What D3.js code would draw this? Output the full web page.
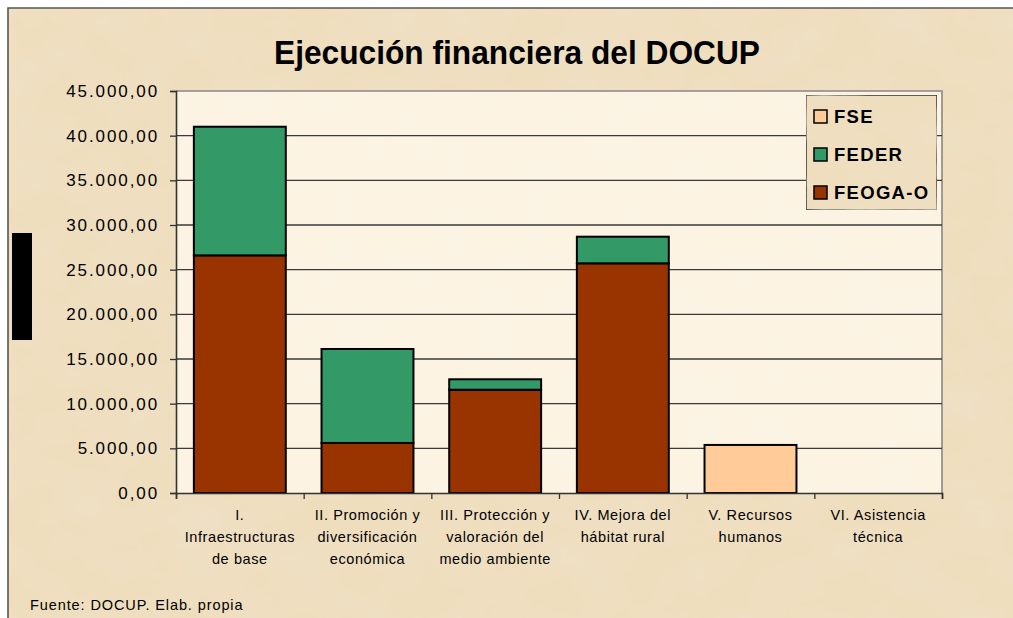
<!DOCTYPE html>
<html>
<head>
<meta charset="utf-8">
<script src="https://cdn.jsdelivr.net/npm/d3@7"></script>
<style>
html,body{margin:0;padding:0;background:#fff;}
svg{display:block;font-family:'Liberation Sans',Arial,sans-serif;}
</style>
</head>
<body>
<svg id="chart" width="1013" height="618"></svg>
<script>
const categories=['I','II','III','IV','V','VI'];
const catLabels=[
  ['I.','Infraestructuras','de base'],
  ['II. Promoción y','diversificación','económica'],
  ['III. Protección y','valoración  del','medio ambiente'],
  ['IV. Mejora del','hábitat rural'],
  ['V. Recursos','humanos'],
  ['VI. Asistencia','técnica']
];
const feogaValues=[26600,5600,11560,25710,0,0];
const federValues=[14400,10520,1170,2980,0,0];
const fseValues=[0,0,0,0,5380,0];
const seriesKeys=['FEOGA-O','FEDER','FSE'];
const legendOrder=['FSE','FEDER','FEOGA-O'];
const yTicks=[0,5000,10000,15000,20000,25000,30000,35000,40000,45000];

(function(){
const colors={'FEOGA-O':'#993300','FEDER':'#339966','FSE':'#ffcc99'};
const W=1013,H=618;
const L=176,R=942,T=91,B=493;
const svg=d3.select('#chart');

// parchment texture filters
const defs=svg.append('defs');
function parch(id,freq,seed,rgb,a,b){
  const f=defs.append('filter').attr('id',id).attr('x',0).attr('y',0).attr('width','100%').attr('height','100%');
  f.append('feTurbulence').attr('type','fractalNoise').attr('baseFrequency',freq).attr('numOctaves',5).attr('seed',seed).attr('result','n');
  f.append('feColorMatrix').attr('in','n').attr('type','matrix')
    .attr('values',`0 0 0 0 ${rgb[0]}  0 0 0 0 ${rgb[1]}  0 0 0 0 ${rgb[2]}  ${a} 0 0 0 ${b}`).attr('result','c');
  f.append('feComposite').attr('in','c').attr('in2','SourceGraphic').attr('operator','atop');
}
parch('parch','0.018 0.026',7,[0.86,0.76,0.58],1.3,-0.5);
parch('parchL','0.03',11,[1,0.97,0.9],1.4,-0.5);
parch('parch2','0.025',3,[0.95,0.89,0.78],1.0,-0.45);

// outer background + frame
const bg=svg.append('g');
bg.append('rect').attr('x',8).attr('y',8).attr('width',W-8).attr('height',H-8).attr('fill','#efdebe').attr('filter','url(#parch)');
bg.append('rect').attr('x',8).attr('y',8).attr('width',W-8).attr('height',H-8).attr('fill','none').attr('filter','url(#parchL)').style('fill','transparent');
svg.append('path').attr('d',`M8,${H} V8 H${W}`).attr('fill','none').attr('stroke','#555').attr('stroke-width',1.6);

// plot area
svg.append('rect').attr('x',L).attr('y',T).attr('width',R-L).attr('height',B-T).attr('fill','#fcf3e2').attr('filter','url(#parch2)');
svg.append('path').attr('d',`M${L},${T} H${R} V${B}`).attr('fill','none').attr('stroke','#888').attr('stroke-width',1.6);

const y=d3.scaleLinear().domain([0,45000]).range([B,T]);
const x=d3.scaleBand().domain(categories).range([L,R]).paddingInner(0.28).paddingOuter(0.14);
const xb=d3.scaleLinear().domain([0,categories.length]).range([L,R]);
const es=d3.formatLocale({decimal:',',thousands:'.',grouping:[3],currency:['','']});
const fmt=es.format(',.2f');

// gridlines
svg.append('g').selectAll('line').data(yTicks.filter(d=>d>0&&d<45000)).enter().append('line')
  .attr('x1',L).attr('x2',R).attr('y1',d=>y(d)).attr('y2',d=>y(d))
  .attr('stroke','#3a3a3a').attr('stroke-width',1.3);

// stacked bars
const rows=categories.map((c,i)=>({cat:c,'FEOGA-O':feogaValues[i],'FEDER':federValues[i],'FSE':fseValues[i]}));
const stack=d3.stack().keys(seriesKeys)(rows);
stack.forEach(s=>{
  svg.append('g').selectAll('rect').data(s.filter(d=>d[1]-d[0]>0)).enter().append('rect')
    .attr('x',d=>x(d.data.cat)).attr('width',x.bandwidth())
    .attr('y',d=>y(d[1])).attr('height',d=>y(d[0])-y(d[1]))
    .attr('fill',colors[s.key]).attr('stroke','#000').attr('stroke-width',2);
});

// y axis
const ya=svg.append('g').attr('transform',`translate(${L},0)`)
  .call(d3.axisLeft(y).tickValues(yTicks).tickFormat(fmt).tickSize(6).tickPadding(11));
ya.select('.domain').attr('stroke','#333').attr('stroke-width',1.6);
ya.selectAll('.tick line').attr('stroke','#333').attr('stroke-width',1.3);
ya.selectAll('.tick text').attr('font-size',17).attr('letter-spacing',1.9).attr('fill','#000')
  .attr('font-family','Liberation Sans,Arial,sans-serif');

// x axis
const xa=svg.append('g').attr('transform',`translate(0,${B})`)
  .call(d3.axisBottom(xb).tickValues(d3.range(categories.length+1)).tickFormat('').tickSize(6));
xa.select('.domain').attr('stroke','#333').attr('stroke-width',1.6);
xa.selectAll('.tick line').attr('stroke','#333').attr('stroke-width',1.3);

// category labels
const cl=svg.append('g').selectAll('text').data(categories).enter().append('text')
  .attr('x',d=>x(d)+x.bandwidth()/2).attr('text-anchor','middle')
  .attr('font-size',14.5).attr('letter-spacing',0.6).attr('fill','#000');
cl.each(function(d,i){
  const t=d3.select(this);
  catLabels[i].forEach((line,j)=>t.append('tspan').attr('x',x(d)+x.bandwidth()/2).attr('y',520+j*22).text(line));
});

// title
svg.append('text').attr('x',517).attr('y',64).attr('text-anchor','middle')
  .attr('font-size',33).attr('font-weight','bold').attr('fill','#000')
  .attr('textLength',486).attr('lengthAdjust','spacingAndGlyphs')
  .text('Ejecución financiera del DOCUP');

// legend
const lg=svg.append('g');
lg.append('rect').attr('x',806).attr('y',95).attr('width',131).attr('height',115)
  .attr('fill','#efdebe').attr('stroke','#333').attr('stroke-width',1.5).attr('filter','url(#parch)');
const ly=d3.scalePoint().domain(legendOrder).range([116,192]);
legendOrder.forEach(k=>{
  lg.append('rect').attr('x',814).attr('y',ly(k)-6).attr('width',13).attr('height',13)
    .attr('fill',colors[k]).attr('stroke','#000').attr('stroke-width',1.5);
  lg.append('text').attr('x',834).attr('y',ly(k)+7).attr('font-size',18.5).attr('font-weight','bold')
    .attr('letter-spacing',1.3).attr('fill','#000').text(k);
});

// black marker on left
svg.append('rect').attr('x',12).attr('y',233).attr('width',20).attr('height',107).attr('fill','#000');

// source note
svg.append('text').attr('x',30).attr('y',610).attr('font-size',14.5).attr('letter-spacing',0.9).attr('fill','#000')
  .text('Fuente: DOCUP. Elab. propia');
})();
</script>
</body>
</html>
